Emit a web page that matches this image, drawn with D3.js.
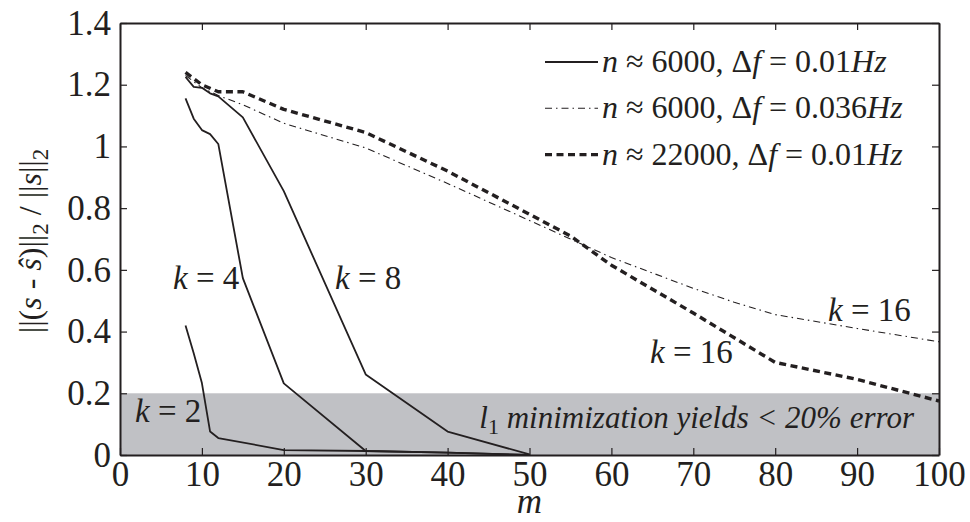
<!DOCTYPE html>
<html>
<head>
<meta charset="utf-8">
<script src="https://cdn.jsdelivr.net/npm/d3@7"></script>
<style>
  body { margin: 0; background: #fff; }
</style>
</head>
<body>
<script>
// --- data ---
var mK2 = [8, 9, 10, 11, 12, 20, 30, 40, 50];
var errK2 = [0.42, 0.33, 0.233, 0.076, 0.055, 0.016, 0.013, 0.008, 0.0];
var mK4 = [8, 9, 10, 11, 12, 15, 20, 30, 40, 50];
var errK4 = [1.156, 1.09, 1.053, 1.04, 1.008, 0.573, 0.232, 0.013, 0.008, 0.0];
var mK8 = [8, 9, 10, 11, 12, 15, 20, 30, 40, 50];
var errK8 = [1.225, 1.193, 1.19, 1.172, 1.162, 1.094, 0.855, 0.261, 0.076, 0.002];
var mK16 = [8, 10, 12, 15, 20, 30, 40, 50, 55, 60, 70, 75, 80, 90, 100];
var errK16b = [1.23, 1.19, 1.165, 1.135, 1.075, 0.995, 0.88, 0.76, 0.70, 0.64, 0.54, 0.495, 0.455, 0.41, 0.367];
var errK16c = [1.24, 1.20, 1.177, 1.177, 1.12, 1.045, 0.92, 0.78, 0.71, 0.615, 0.46, 0.38, 0.30, 0.245, 0.175];
var xTicks = [0, 10, 20, 30, 40, 50, 60, 70, 80, 90, 100];
var yTicks = [0, 0.2, 0.4, 0.6, 0.8, 1, 1.2, 1.4];
var bandLimit = 0.2;

var W = 970, H = 522;
var margin = { top: 23, right: 31, bottom: 67, left: 120 };
var ink = "#231f20";
var serif = "'Liberation Serif', 'DejaVu Serif', serif";

var svg = d3.select("body").append("svg")
    .attr("width", W)
    .attr("height", H)
    .attr("font-family", serif);

var x = d3.scaleLinear().domain([0, 100]).range([margin.left, W - margin.right]);
var y = d3.scaleLinear().domain([0, 1.4]).range([H - margin.bottom, margin.top]);

// gray band for the error < 20% region
svg.append("rect")
    .attr("x", x(0))
    .attr("y", y(bandLimit))
    .attr("width", x(100) - x(0))
    .attr("height", y(0) - y(bandLimit))
    .attr("fill", "#c0c1c5");

var line = d3.line()
    .x(function (d) { return x(d[0]); })
    .y(function (d) { return y(d[1]); });

function pairs(ms, vals) {
    return ms.map(function (m, i) { return [m, vals[i]]; });
}

var styles = {
    solid: { w: 1.8, dash: null },
    dashdot: { w: 1.1, dash: "7,4,1.5,4" },
    dashed: { w: 3.4, dash: "7,4.5" }
};

var series = [
    { data: pairs(mK2, errK2), s: styles.solid },
    { data: pairs(mK4, errK4), s: styles.solid },
    { data: pairs(mK8, errK8), s: styles.solid },
    { data: pairs(mK16, errK16b), s: styles.dashdot },
    { data: pairs(mK16, errK16c), s: styles.dashed }
];

svg.selectAll("path.series")
    .data(series)
    .enter().append("path")
    .attr("class", "series")
    .attr("d", function (d) { return line(d.data); })
    .attr("fill", "none")
    .attr("stroke", ink)
    .attr("stroke-width", function (d) { return d.s.w; })
    .attr("stroke-dasharray", function (d) { return d.s.dash; })
    .attr("stroke-linejoin", "round");

// axes: bottom/left with labels, top/right just ticks (matlab style box)
var tickLen = 7;
var gx = svg.append("g").attr("class", "axis")
    .attr("transform", "translate(0," + y(0) + ")")
    .call(d3.axisBottom(x).tickValues(xTicks).tickSizeInner(-tickLen).tickSizeOuter(0).tickPadding(12));
var gy = svg.append("g").attr("class", "axis")
    .attr("transform", "translate(" + x(0) + ",0)")
    .call(d3.axisLeft(y).tickValues(yTicks).tickSizeInner(-tickLen).tickSizeOuter(0).tickPadding(9)
        .tickFormat(function (d) { return d3.format("")(+d.toFixed(1)); }));
var gt = svg.append("g").attr("class", "axis")
    .attr("transform", "translate(0," + y(1.4) + ")")
    .call(d3.axisTop(x).tickValues(xTicks).tickSizeInner(-tickLen).tickSizeOuter(0).tickFormat(""));
var gr = svg.append("g").attr("class", "axis")
    .attr("transform", "translate(" + x(100) + ",0)")
    .call(d3.axisRight(y).tickValues(yTicks).tickSizeInner(-tickLen).tickSizeOuter(0).tickFormat(""));

svg.selectAll("g.axis").attr("font-family", serif).attr("font-size", 35);
svg.selectAll(".axis path.domain").attr("stroke", ink).attr("stroke-width", 2);
svg.selectAll(".axis line").attr("stroke", ink).attr("stroke-width", 1.2);
svg.selectAll(".axis text").attr("fill", ink);
gx.selectAll("text").attr("dy", "0.55em");

// axis titles
svg.append("text")
    .attr("x", x(50))
    .attr("y", 513)
    .attr("text-anchor", "middle")
    .attr("font-size", 35)
    .attr("font-style", "italic")
    .attr("fill", ink)
    .text("m");

var yl = svg.append("text")
    .attr("transform", "translate(41,241) rotate(-90)")
    .attr("text-anchor", "middle")
    .attr("font-size", 32)
    .attr("fill", ink);
yl.append("tspan").text("||(");
yl.append("tspan").attr("font-style", "italic").text("s");
yl.append("tspan").text(" - ");
yl.append("tspan").attr("font-style", "italic").text("ŝ");
yl.append("tspan").text(")||");
yl.append("tspan").attr("font-size", 23).attr("dy", 7).text("2");
yl.append("tspan").attr("dy", -7).text(" / ||");
yl.append("tspan").attr("font-style", "italic").text("s");
yl.append("tspan").text("||");
yl.append("tspan").attr("font-size", 23).attr("dy", 7).text("2");

// k labels
var kLabels = [
    { t: "2", x: 135, y: 422 },
    { t: "4", x: 173, y: 289 },
    { t: "8", x: 335, y: 289 },
    { t: "16", x: 828, y: 321 },
    { t: "16", x: 650, y: 363 }
];
kLabels.forEach(function (k) {
    var t = svg.append("text")
        .attr("x", k.x).attr("y", k.y)
        .attr("font-size", 33)
        .attr("fill", ink);
    t.append("tspan").attr("font-style", "italic").text("k");
    t.append("tspan").text(" = " + k.t);
});

// band annotation
var ann = svg.append("text")
    .attr("x", 914).attr("y", 428)
    .attr("text-anchor", "end")
    .attr("font-size", 31)
    .attr("font-style", "italic")
    .attr("fill", ink);
ann.append("tspan").text("l");
ann.append("tspan").attr("font-style", "normal").attr("font-size", 22).attr("dy", 6).text("1");
ann.append("tspan").attr("dy", -6).text(" minimization yields < 20% error");

// legend
var legendRows = [
    { n: "6000", f: "0.01", s: styles.solid },
    { n: "6000", f: "0.036", s: styles.dashdot },
    { n: "22000", f: "0.01", s: styles.dashed }
];
var lg = svg.append("g");
legendRows.forEach(function (r, i) {
    var ly = 62 + i * 46.3;
    lg.append("line")
        .attr("x1", 545).attr("x2", 598)
        .attr("y1", ly).attr("y2", ly)
        .attr("stroke", ink)
        .attr("stroke-width", r.s.w)
        .attr("stroke-dasharray", r.s.dash);
    var t = lg.append("text")
        .attr("x", 602).attr("y", ly + 10)
        .attr("font-size", 32)
        .attr("fill", ink);
    t.append("tspan").attr("font-style", "italic").text("n");
    t.append("tspan").text(" ≈ " + r.n + ", Δ");
    t.append("tspan").attr("font-style", "italic").text("f");
    t.append("tspan").text(" = " + r.f);
    t.append("tspan").attr("font-style", "italic").text("Hz");
});
</script>
</body>
</html>
